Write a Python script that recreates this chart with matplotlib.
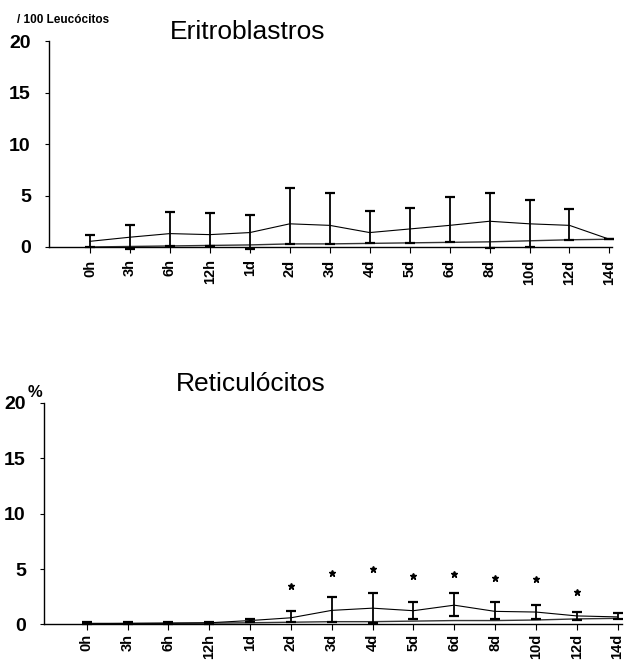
import matplotlib.pyplot as plt
import numpy as np

plt.rcParams["font.family"] = ["Liberation Sans", "DejaVu Sans"]

labels = ["0h", "3h", "6h", "12h", "1d", "2d", "3d", "4d", "5d", "6d", "8d", "10d", "12d", "14d"]

# Eritroblastros (/100 leucocitos)
eri_mean = [0.55, 0.95, 1.3, 1.2, 1.4, 2.25, 2.1, 1.4, 1.75, 2.1, 2.5, 2.25, 2.1, 0.75]
eri_upper = [1.15, 2.1, 3.4, 3.3, 3.1, 5.7, 5.2, 3.5, 3.8, 4.9, 5.2, 4.6, 3.7, 0.75]
eri_lower = [0.0, -0.15, 0.1, 0.1, -0.15, 0.3, 0.3, 0.35, 0.4, 0.45, -0.1, -0.05, 0.7, 0.75]
eri_base = [0.0, 0.05, 0.1, 0.15, 0.2, 0.3, 0.3, 0.35, 0.4, 0.45, 0.5, 0.6, 0.7, 0.75]

# Reticulocitos (%)
ret_mean = [0.1, 0.1, 0.12, 0.15, 0.35, 0.6, 1.27, 1.47, 1.24, 1.74, 1.18, 1.12, 0.77, 0.68]
ret_upper = [0.2, 0.2, 0.22, 0.25, 0.45, 1.2, 2.45, 2.83, 2.06, 2.83, 2.0, 1.77, 1.12, 1.03]
ret_lower = [0.0, 0.0, 0.02, 0.05, 0.25, 0.25, 0.25, 0.15, 0.53, 0.77, 0.53, 0.53, 0.44, 0.53]
ret_base = [0.05, 0.08, 0.1, 0.12, 0.15, 0.2, 0.25, 0.25, 0.3, 0.35, 0.35, 0.4, 0.5, 0.55]
star_y = [None, None, None, None, None, 3.45, 4.65, 5.05, 4.35, 4.6, 4.15, 4.1, 2.9, None]


def draw_panel(ax, mean, upper, lower, base, xlim, xpad):
    x = np.arange(len(labels))
    mean = np.array(mean)
    yerr = [mean - np.array(lower), np.array(upper) - mean]
    ax.plot(x, base, color="#333333", lw=1.0, clip_on=False)
    eb = ax.errorbar(x, mean, yerr=yerr, color="black", lw=0.8, elinewidth=1.3,
                     capsize=3.5, capthick=1.6)
    for art in eb.lines[1] + eb.lines[2]:
        art.set_clip_on(False)
    ax.set_xlim(*xlim)
    ax.set_ylim(0, 20)
    ax.set_yticks([0, 5, 10, 15, 20])
    ax.set_xticks(x)
    ax.set_xticklabels(labels, rotation=90, fontsize=10.5, fontweight="bold")
    ax.tick_params(axis="y", labelsize=14, length=3, pad=10)
    ax.tick_params(axis="x", length=4, pad=xpad)
    for lab in ax.get_yticklabels():
        lab.set_fontweight("bold")
    ax.spines["top"].set_visible(False)
    ax.spines["right"].set_visible(False)
    ax.spines["left"].set_linewidth(1.0)
    ax.spines["bottom"].set_linewidth(1.0)


fig = plt.figure(figsize=(6.26, 6.65), dpi=100)

ax1 = fig.add_axes([0.078, 0.6286, 0.9, 0.3096])
draw_panel(ax1, eri_mean, eri_upper, eri_lower, eri_base, (-1.03, 13.07), 5)

ax2 = fig.add_axes([0.070, 0.061, 0.923, 0.333])
draw_panel(ax2, ret_mean, ret_upper, ret_lower, ret_base, (-1.05, 13.1), 3)
for i, s in enumerate(star_y):
    if s is not None:
        ax2.plot(i, s, marker="*", color="black", ms=4.5, ls="none")

fig.text(0.395, 0.952, "Eritroblastros", fontsize=19, ha="center", va="center")
fig.text(0.027, 0.970, "/ 100 Leucócitos", fontsize=8.5, fontweight="bold", ha="left", va="center")
fig.text(0.400, 0.4225, "Reticulócitos", fontsize=19, ha="center", va="center")
fig.text(0.044, 0.4105, "%", fontsize=12, fontweight="bold", ha="left", va="center")

fig.savefig("out.png", dpi=100)
